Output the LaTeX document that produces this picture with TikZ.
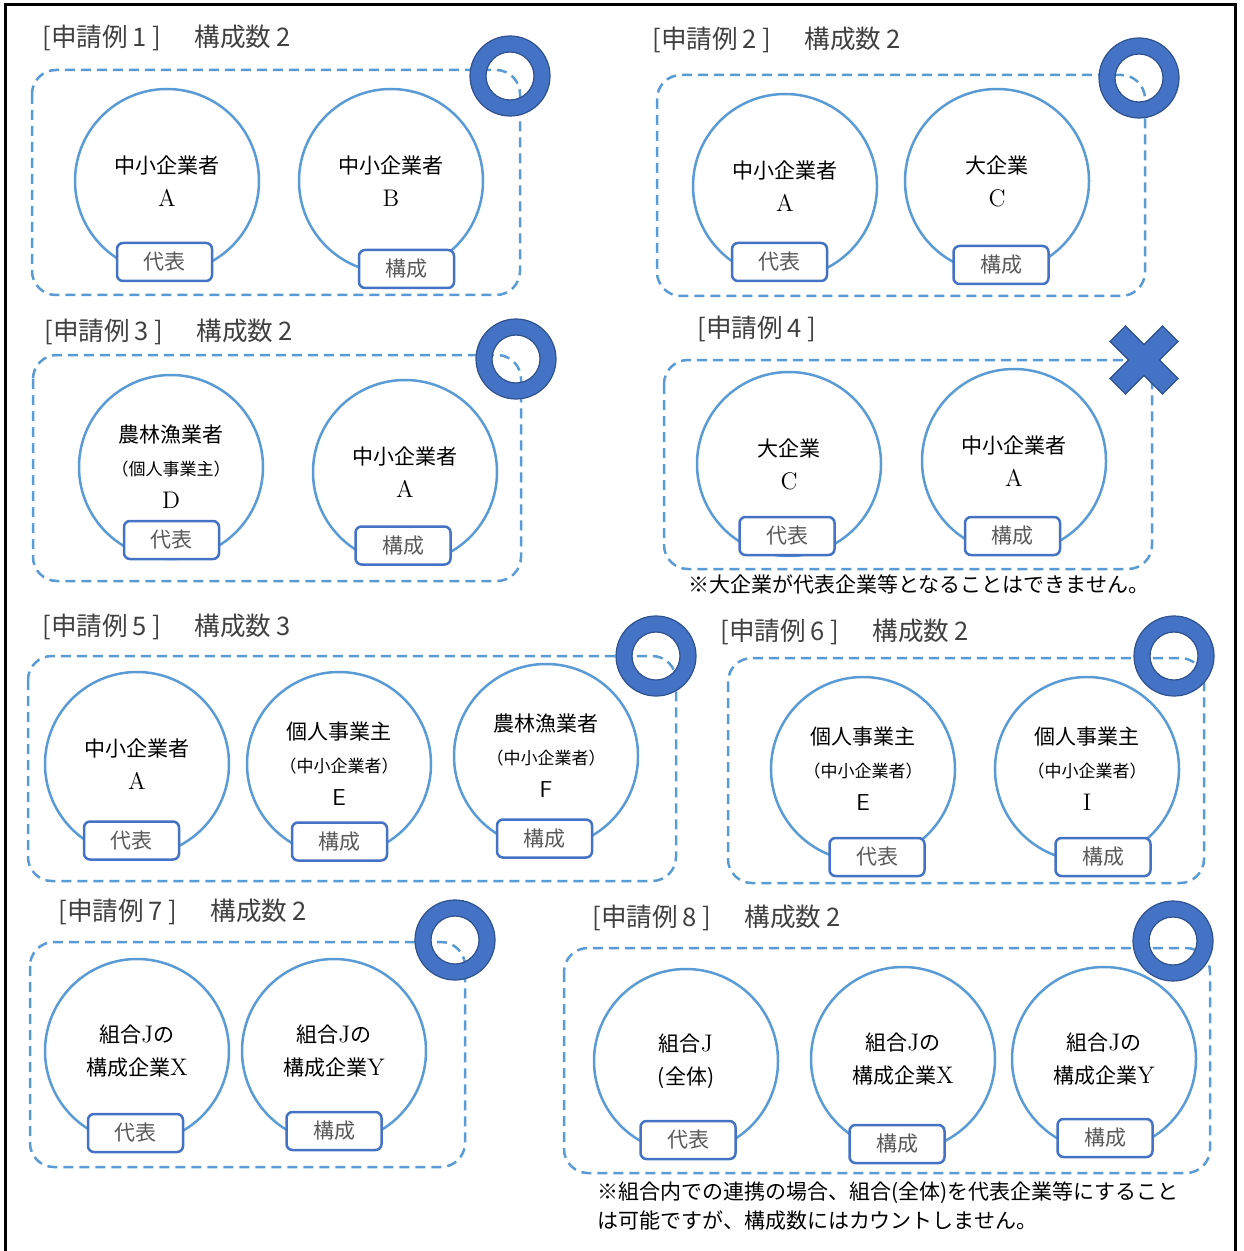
\documentclass[tikz,border=0pt]{standalone}
\usepackage{fontspec}
\newfontfamily\jp{Noto Sans CJK JP}
\usetikzlibrary{positioning}

\definecolor{lineblue}{HTML}{5B9BD5}
\definecolor{boxblue}{HTML}{4472C4}
\definecolor{ringdark}{HTML}{2F528F}
\definecolor{titlegray}{HTML}{404040}
\definecolor{boxgray}{HTML}{595959}

\newcommand{\fid}[1]{{\fontsize{12}{16.5}\selectfont\rmfamily #1}}
\newcommand{\fids}[1]{{\fontsize{11.5}{16.5}\selectfont\sffamily #1}}
\newcommand{\rei}[2]{[申請例\hspace{2.5pt}#1\hspace{2.5pt}]\hspace{17pt}構成数\hspace{2.5pt}#2}

\tikzset{
  firm/.style={circle, draw=lineblue, line width=1.25pt, minimum size=92pt, inner sep=0pt,
    align=center, font=\jp\fontsize{10.5}{16.5}\selectfont},
  role/.style={draw=boxblue, fill=white, line width=1.25pt, rounded corners=3pt,
    minimum width=47.5pt, minimum height=19pt, inner sep=0pt, text=boxgray,
    font=\jp\fontsize{10.5}{12}\selectfont},
  group/.style={draw=lineblue, line width=1.25pt, dash pattern=on 5pt off 3pt, rounded corners=12pt},
  title/.style={anchor=west, inner sep=0pt, text=titlegray, font=\jp\fontsize{12.8}{14}\selectfont},
  note/.style={anchor=west, inner sep=0pt, align=left, font=\jp\fontsize{10.5}{14.5}\selectfont},
  ok/.style={fill=boxblue, draw=ringdark, line width=0.6pt, even odd rule}
}

\begin{document}
\begin{tikzpicture}[x=0.5pt, y=-0.5pt]
\useasboundingbox (0,0) rectangle (1243,1251);
\draw[line width=1.5pt] (5,1251) -- (5,5) -- (1235,5) -- (1235,1251);

\node[title] (t1) at (42,38) {\rei{1}{2}};
\node[firm] (p1a) at (167,181) {中小企業者\\\fid{A}};
\node[firm] (p1b) at (391,181) {中小企業者\\\fid{B}};
\node[role] (p1a-rep) at (164.5,262) {代表};
\node[role] (p1b-mem) at (406.5,269) {構成};
\draw[group] (32,70) rectangle (520,295);
\draw[ok] (510,76) circle (20pt) circle (12pt);

\node[title] (t2) at (652,40) {\rei{2}{2}};
\node[firm] (p2a) at (785,186) {中小企業者\\\fid{A}};
\node[firm] (p2c) at (997,181) {大企業\\\fid{C}};
\node[role] (p2a-rep) at (779.5,262) {代表};
\node[role] (p2c-mem) at (1001,265) {構成};
\draw[group] (657,75) rectangle (1145,296);
\draw[ok] (1139,78) circle (20pt) circle (12pt);

\node[title] (t3) at (44,332) {\rei{3}{2}};
\node[firm] (p3d) at (171,467) {農林漁業者\\{\fontsize{8.5}{16.5}\selectfont （個人事業主）}\\\fid{D}};
\node[firm] (p3a) at (405,472) {中小企業者\\\fid{A}};
\node[role] (p3d-rep) at (171.5,540) {代表};
\node[role] (p3a-mem) at (403,545.5) {構成};
\draw[group] (33,355) rectangle (521,581);
\draw[ok] (516,359) circle (20pt) circle (12pt);

\node[title] (t4) at (697,329) {[申請例\hspace{2.5pt}4\hspace{2.5pt}]};
\node[firm] (p4c) at (789,464) {大企業\\\fid{C}};
\node[firm] (p4a) at (1014,461) {中小企業者\\\fid{A}};
\node[role] (p4c-rep) at (787,536) {代表};
\node[role] (p4a-mem) at (1012.5,536) {構成};
\draw[group] (664,360) rectangle (1152,569);
\draw[ok, shift={(1144,360)}] (-18.5,-34) -- (0,-15.5) -- (18.5,-34) -- (34,-18.5) -- (15.5,0)
  -- (34,18.5) -- (18.5,34) -- (0,15.5) -- (-18.5,34) -- (-34,18.5) -- (-15.5,0) -- (-34,-18.5) -- cycle;
\node[note] (n4) at (688,584) {※大企業が代表企業等となることはできません。};

\node[title] (t5) at (42,627) {\rei{5}{3}};
\node[firm] (p5a) at (137,764) {中小企業者\\\fid{A}};
\node[firm] (p5e) at (339,764) {個人事業主\\{\fontsize{8.5}{16.5}\selectfont （中小企業者）}\\\fids{E}};
\node[firm] (p5f) at (546,756) {農林漁業者\\{\fontsize{8.5}{16.5}\selectfont （中小企業者）}\\\fids{F}};
\node[role] (p5a-rep) at (131.5,840.5) {代表};
\node[role] (p5e-mem) at (339.5,841.5) {構成};
\node[role] (p5f-mem) at (544.5,838.5) {構成};
\draw[group] (28,656) rectangle (676,881);
\draw[ok] (656,656) circle (20pt) circle (12pt);

\node[title] (t6) at (720,632) {\rei{6}{2}};
\node[firm] (p6e) at (863,769) {個人事業主\\{\fontsize{8.5}{16.5}\selectfont （中小企業者）}\\\fids{E}};
\node[firm] (p6i) at (1087,769) {個人事業主\\{\fontsize{8.5}{16.5}\selectfont （中小企業者）}\\\fid{I}};
\node[role] (p6e-rep) at (877,857) {代表};
\node[role] (p6i-mem) at (1103,857) {構成};
\draw[group] (728,658) rectangle (1204,883);
\draw[ok] (1174,656) circle (20pt) circle (12pt);

\node[title] (t7) at (58,912) {\rei{7}{2}};
\node[firm] (p7x) at (137,1051) {組合\fid{J}の\\構成企業\fid{X}};
\node[firm] (p7y) at (334,1051) {組合\fid{J}の\\構成企業\fid{Y}};
\node[role] (p7x-rep) at (135.5,1133) {代表};
\node[role] (p7y-mem) at (334,1131) {構成};
\draw[group] (30,942) rectangle (465,1167);
\draw[ok] (455,940) circle (20pt) circle (12pt);

\node[title] (t8) at (592,918) {\rei{8}{2}};
\node[firm] (p8j) at (686,1061) {組合\fid{J}\\(全体)};
\node[firm] (p8x) at (903,1059) {組合\fid{J}の\\構成企業\fid{X}};
\node[firm] (p8y) at (1104,1059) {組合\fid{J}の\\構成企業\fid{Y}};
\node[role] (p8j-rep) at (688,1140) {代表};
\node[role] (p8x-mem) at (897,1144) {構成};
\node[role] (p8y-mem) at (1105,1138) {構成};
\draw[group] (564,948) rectangle (1210,1173);
\draw[ok] (1173,941) circle (20pt) circle (12pt);
\node[note] (n8) at (597,1206.5) {※組合内での連携の場合、組合(全体)を代表企業等にすること\\は可能ですが、構成数にはカウントしません。};
\end{tikzpicture}
\end{document}
